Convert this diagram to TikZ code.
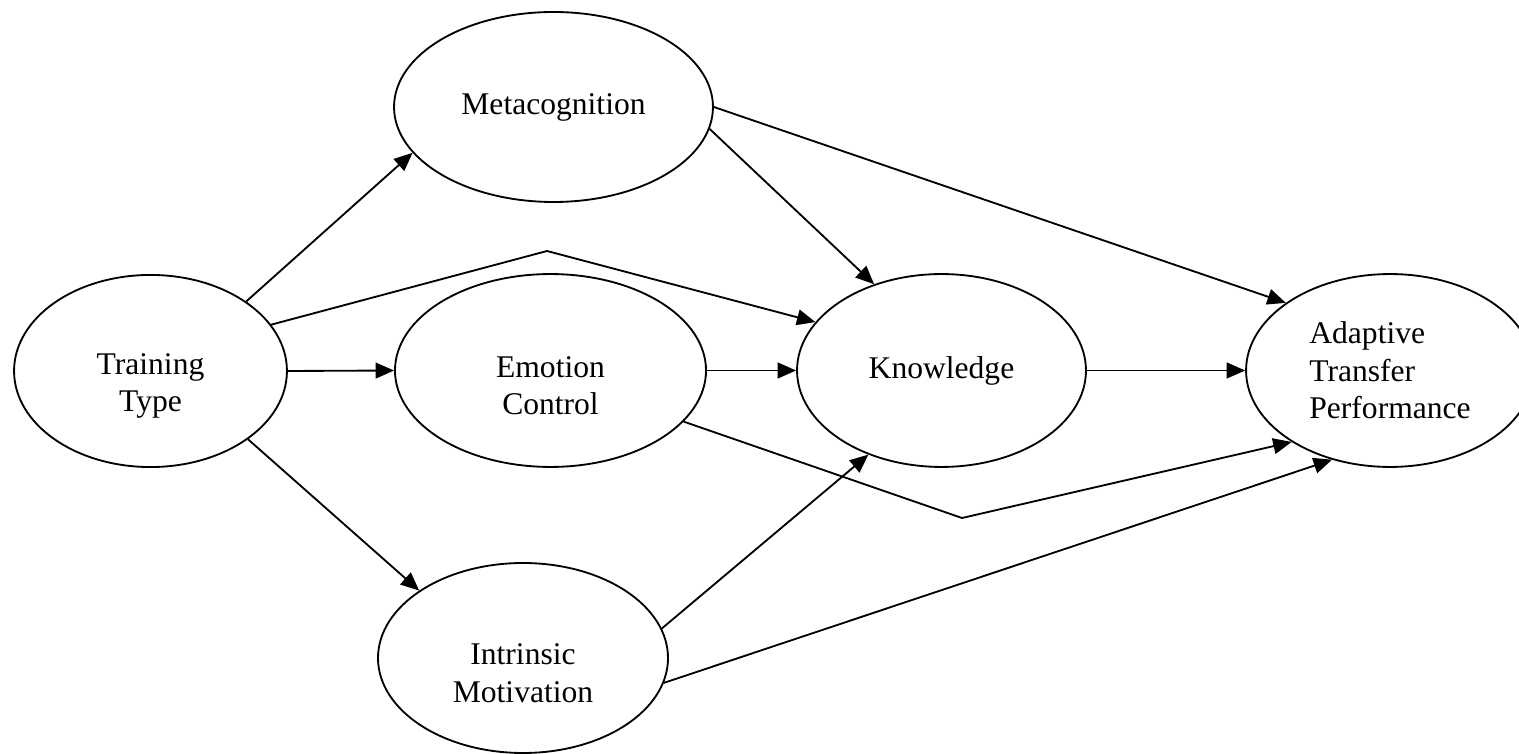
\documentclass[tikz,border=0pt]{standalone}
\usepackage{fontspec}
\setmainfont{Liberation Serif}
\usetikzlibrary{shapes.geometric,arrows.meta}
\newcommand{\toppad}{\rule{0pt}{19.5pt}}
\begin{document}
\begin{tikzpicture}[x=0.38pt,y=-0.38pt,
  construct/.style={ellipse,draw,line width=0.7pt,inner sep=0pt,align=center,
    font=\fontsize{12}{14.2}\selectfont},
  path/.style={line width=0.7pt,-{Triangle[length=7pt,width=6pt]}}]
\useasboundingbox (0,0) rectangle (1519,754);
\node[construct,minimum width=103.7pt,minimum height=73pt] (train) at (150.5,371) {\toppad Training\\Type};
\node[construct,minimum width=121.2pt,minimum height=72.2pt] (meta) at (553.5,107) {Metacognition};
\node[construct,minimum width=118.2pt,minimum height=73.3pt] (emo) at (550.5,370.5) {\toppad Emotion\\Control};
\node[construct,minimum width=109.8pt,minimum height=73.3pt] (know) at (941.5,370.5) {Knowledge};
\node[construct,align=left,minimum width=109.4pt,minimum height=73.3pt] (adapt) at (1390,370.5) {Adaptive\\Transfer\\Performance};
\node[construct,minimum width=110.2pt,minimum height=72.2pt] (motiv) at (523,658) {\toppad Intrinsic\\Motivation};
\coordinate (kbend) at (547,251);
\coordinate (abend) at (962,518);
\draw[path] (train.36.2) -- (meta.198.4);
\draw[path] (train.21.6) -- (kbend) -- (know.159.5);
\draw[path] (train.east) -- (emo.west);
\draw[path] (train.-35.9) -- (motiv.147.7);
\draw[path] (meta.-8.9) -- (know.128.8);
\draw[path] (meta.east) -- (adapt.147.5);
\draw[path] (emo.east) -- (know.west);
\draw[path] (emo.-21.8) -- (abend) -- (adapt.216.5);
\draw[path] (know.east) -- (adapt.west);
\draw[path] (motiv.12.7) -- (know.229.1);
\draw[path] (motiv.-10) -- (adapt.237.1);
\end{tikzpicture}
\end{document}
